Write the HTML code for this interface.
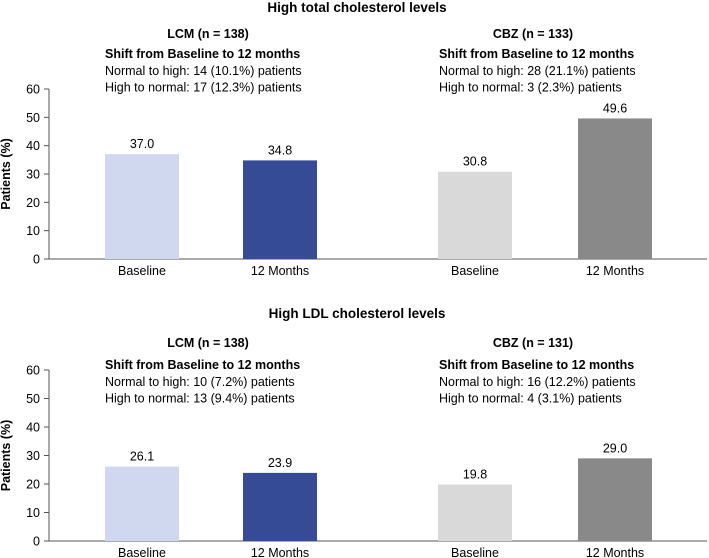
<!DOCTYPE html>
<html><head><meta charset="utf-8"><style>
body{margin:0;background:#fff;}
svg{display:block;font-family:"Liberation Sans",sans-serif;}
</style></head><body>
<svg id="chart" width="709" height="558" viewBox="0 0 709 558"></svg>
<script>
const categories = ["Baseline", "12 Months", "Baseline", "12 Months"];
const totalValues = [37.0, 34.8, 30.8, 49.6];
const ldlValues = [26.1, 23.9, 19.8, 29.0];
const yTicks = [0, 10, 20, 30, 40, 50, 60];
const panelTitles = ["High total cholesterol levels", "High LDL cholesterol levels"];
const groupHeaders = [["LCM (n = 138)", "CBZ (n = 133)"], ["LCM (n = 138)", "CBZ (n = 131)"]];
const shiftLines = [
  [["Normal to high: 14 (10.1%) patients", "High to normal: 17 (12.3%) patients"],
   ["Normal to high: 28 (21.1%) patients", "High to normal: 3 (2.3%) patients"]],
  [["Normal to high: 10 (7.2%) patients", "High to normal: 13 (9.4%) patients"],
   ["Normal to high: 16 (12.2%) patients", "High to normal: 4 (3.1%) patients"]]
];
const barColors = ["#d0d8ef", "#354b96", "#d9d9d9", "#898989"];

const svg = document.getElementById('chart');
const NS = "http://www.w3.org/2000/svg";
function mk(tag, attrs, text){
  const e = document.createElementNS(NS, tag);
  for (const k in attrs) e.setAttribute(k, attrs[k]);
  if (text !== undefined) e.textContent = text;
  svg.appendChild(e);
  return e;
}
const barX = [105, 243, 438, 578];
const barW = 74;
const panels = [
  {values: totalValues, y0: 259, y60: 89, titleY: 12, headY: 38, shiftY: 58},
  {values: ldlValues, y0: 541, y60: 370, titleY: 318, headY: 347, shiftY: 369}
];
panels.forEach((p, pi) => {
  const yScale = v => p.y0 - (v / 60) * (p.y0 - p.y60);
  let t = mk('text', {x: 357, y: p.titleY, 'text-anchor': 'middle', 'font-size': 13.5, 'font-weight': 'bold', fill: '#000'}, panelTitles[pi]);
  
  
  [208, 533].forEach((cx, gi) => {
    let h = mk('text', {x: cx, y: p.headY, 'text-anchor': 'middle', 'font-size': 12.5, 'font-weight': 'bold'}, groupHeaders[pi][gi]);
    
    
    const sx = gi === 0 ? 105 : 439;
    let s = mk('text', {x: sx, y: p.shiftY, 'font-size': 12.5, 'font-weight': 'bold'}, "Shift from Baseline to 12 months");
    
    
    shiftLines[pi][gi].forEach((ln, li) => {
      let l = mk('text', {x: sx, y: p.shiftY + 17 + li * 16.5, 'font-size': 12.5}, ln);
      
      
    });
  });
  let ax = mk('line', {x1: 49, y1: p.y60, x2: 49, y2: p.y0, stroke: '#555', 'stroke-width': 1});
  
  
  let xa = mk('line', {x1: 46, y1: p.y0, x2: 707, y2: p.y0, stroke: '#555', 'stroke-width': 1});
  
  
  yTicks.forEach(v => {
    const y = yScale(v);
    let tk = mk('line', {x1: 44, y1: y, x2: 49, y2: y, stroke: '#555'});
    
    
    let tl = mk('text', {x: 40, y: y + 4.5, 'text-anchor': 'end', 'font-size': 12.5}, String(v));
    
    
  });
  let yt = mk('text', {x: 0, y: 0, 'text-anchor': 'middle', 'font-size': 12.5, 'font-weight': 'bold', transform: `translate(10,${(p.y0 + p.y60) / 2}) rotate(-90)`}, "Patients (%)");
  
  
  p.values.forEach((v, i) => {
    const y = yScale(v);
    let b = mk('rect', {x: barX[i], y: y, width: barW, height: p.y0 - y, fill: barColors[i]});
    
    
    let vl = mk('text', {x: barX[i] + barW / 2, y: y - 6, 'text-anchor': 'middle', 'font-size': 12.5}, v.toFixed(1));
    
    
    let cl = mk('text', {x: barX[i] + barW / 2, y: p.y0 + 16, 'text-anchor': 'middle', 'font-size': 12.5}, categories[i]);
    
    
  });
});
</script>
</body></html>
